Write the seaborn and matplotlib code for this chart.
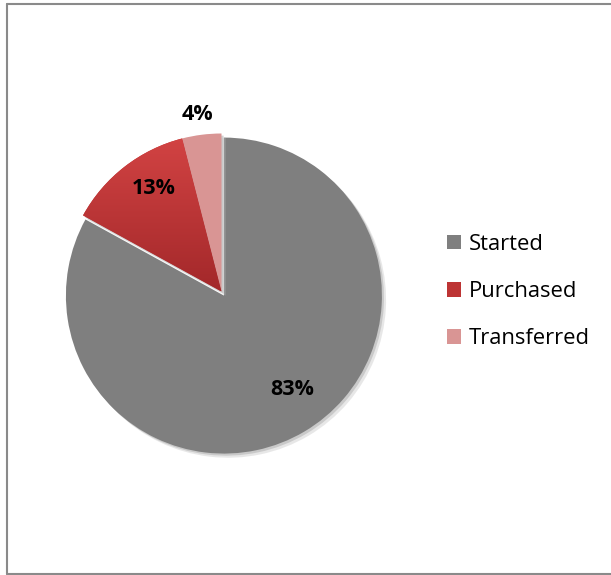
"""
Pie chart: share of orders Started / Purchased / Transferred
"""

import numpy as np
import matplotlib
matplotlib.use("Agg")
import matplotlib.pyplot as plt
import matplotlib.patches as mpatches
import matplotlib.patheffects as pe
from matplotlib.lines import Line2D
from matplotlib.colors import LinearSegmentedColormap
import seaborn as sns

# data
categories = ["Started", "Purchased", "Transferred"]
shares = [83, 13, 4]
pct_labels = ["83%", "13%", "4%"]

colors = ["#7f7f7f", "#bd3434", "#d99594"]
explode = [0.03, 0, 0]
# label spots in pie-radius units, relative to the pie centre
label_xy = [(0.45, -0.62), (-0.43, 0.65), (-0.15, 1.12)]

sns.set_theme(style="white")
plt.rcParams["font.family"] = ["Open Sans", "DejaVu Sans"]

W, H = 611, 575
fig = plt.figure(figsize=(W / 100, H / 100), dpi=100)

# put the pie centre at (221.5, 291.5) px with radius 158 px
r_px = 158
half = 1.3
side = 2 * half * r_px
cx, cy = 221.5, 291.5
ax = fig.add_axes([(cx - side / 2) / W, (H - cy - side / 2) / H, side / W, side / H])

shadow = [pe.SimplePatchShadow(offset=(3, -3), shadow_rgbFace="#bdbdbd", alpha=0.35),
          pe.SimplePatchShadow(offset=(1.5, -1.5), shadow_rgbFace="#bdbdbd", alpha=0.7),
          pe.Normal()]

wedges, _ = ax.pie(shares, colors=colors, startangle=90, counterclock=False,
                   explode=explode, radius=1,
                   wedgeprops=dict(linewidth=0, path_effects=shadow))

# red slice gets a vertical gradient like the original
red = wedges[1]
bb = red.get_path().get_extents(red.get_transform() - ax.transData)
grad = np.linspace(1, 0, 256).reshape(-1, 1)
cmap = LinearSegmentedColormap.from_list("redgrad", ["#a3282a", "#d24343"])
img = ax.imshow(grad, cmap=cmap, extent=[bb.x0, bb.x1, bb.y0, bb.y1],
                aspect="auto", zorder=red.get_zorder() + 0.1)
img.set_clip_path(red)

# percentage labels
for txt, (x, y) in zip(pct_labels, label_xy):
    ax.text(x, y, txt, ha="center", va="center", fontsize=15.5,
            fontweight="bold", color="black", zorder=5)

ax.set_xlim(-half, half)
ax.set_ylim(-half, half)
ax.set_aspect("equal")
ax.axis("off")

handles = [mpatches.Patch(facecolor=c, edgecolor="none") for c in colors]
fig.legend(handles, categories, loc="center left",
           bbox_to_anchor=(447 / W, (H - 291.5) / H), frameon=False,
           fontsize=15.8, labelspacing=1.2, handlelength=0.65, handleheight=0.65,
           handletextpad=0.35, borderpad=0, borderaxespad=0, labelcolor="black")

# chart-area frame: left, top and bottom only, the right side runs off the picture
fx0, fy_top, fy_bot = 7.5 / W, 1 - 3.5 / H, 1 - 573.5 / H
for xs, ys in [([fx0, fx0], [fy_bot, fy_top]),
               ([fx0, 1.0], [fy_top, fy_top]),
               ([fx0, 1.0], [fy_bot, fy_bot])]:
    fig.add_artist(Line2D(xs, ys, transform=fig.transFigure,
                          color="#8a8a8a", linewidth=1.5))

fig.savefig("out.png", dpi=100, facecolor="white")
